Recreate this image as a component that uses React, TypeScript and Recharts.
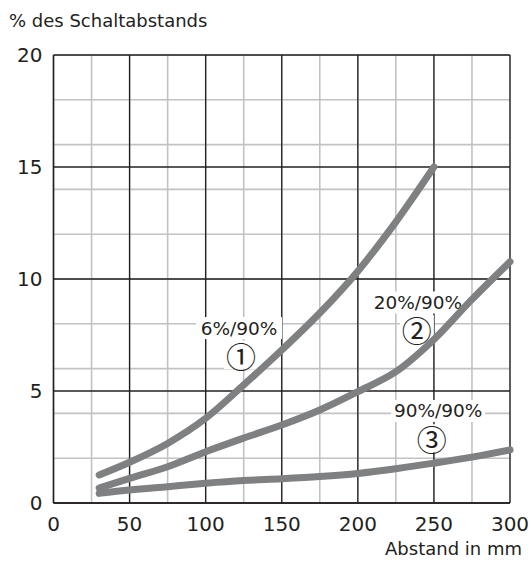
import React from 'react';
import { LineChart, Line, XAxis, YAxis, CartesianGrid, ReferenceDot } from 'recharts';

const distances = [30, 50, 75, 100, 125, 150, 175, 200, 225, 250, 275, 300];
const series1 = [1.25, 1.82, 2.66, 3.78, 5.27, 6.83, 8.48, 10.35, 12.55, 15.0, null, null];
const series2 = [0.67, 1.1, 1.62, 2.29, 2.9, 3.48, 4.15, 4.97, 5.86, 7.3, 9.09, 10.77];
const series3 = [0.43, 0.58, 0.73, 0.88, 1.0, 1.08, 1.18, 1.32, 1.53, 1.78, 2.05, 2.37];

const xTicks = [0, 50, 100, 150, 200, 250, 300];
const yTicks = [0, 5, 10, 15, 20];
const xMinor = [0, 25, 50, 75, 100, 125, 150, 175, 200, 225, 250, 275, 300];
const yMinor = [0, 1, 2, 3, 4, 5, 6, 7, 8, 9, 10, 11, 12, 13, 14, 15, 16, 17, 18, 19, 20];

const seriesNames = ['6%/90%', '20%/90%', '90%/90%'];
const seriesMarks = ['\u2460', '\u2461', '\u2462'];
const yAxisTitle = '% des Schaltabstands';
const xAxisTitle = 'Abstand in mm';

const data = distances.map((d, i) => ({ d, s1: series1[i], s2: series2[i], s3: series3[i] }));

// annotation anchor positions (data coordinates)
const namePos = [
  { x: 121.9, y: 7.81 },
  { x: 239.5, y: 8.95 },
  { x: 252.8, y: 4.11 },
];
const markPos = [
  { x: 123.2, y: 6.61 },
  { x: 238.8, y: 7.76 },
  { x: 248.5, y: 2.89 },
];
const nameWidths = [86, 94, 94];

const FONT = "'DejaVu Sans', sans-serif";
const TEXT = '#231f20';
const CURVE = '#7f8082';

export default function App() {
  return (
    <div style={{ position: 'absolute', left: 0, top: 0, width: 531, height: 562, background: '#fff', fontFamily: FONT }}>
      <LineChart width={531} height={562} data={data} margin={{ top: 55, right: 21, bottom: 0, left: 0 }}>
        <CartesianGrid stroke="#c2c2c4" strokeWidth={1.6} horizontalValues={yMinor} verticalValues={xMinor} />
        <CartesianGrid stroke="#231f20" strokeWidth={1.3} horizontalValues={yTicks} verticalValues={xTicks} />
        <XAxis
          dataKey="d"
          type="number"
          domain={[0, 300]}
          ticks={xTicks}
          height={59}
          tickLine={false}
          axisLine={{ stroke: '#231f20', strokeWidth: 1.3 }}
          tickMargin={8}
          tick={{ fontFamily: FONT, fontSize: 20, fill: TEXT }}
          label={{
            content: () => (
              <text x={522} y={555} textAnchor="end" fontFamily={FONT} fontSize={18} fill={TEXT}>
                {xAxisTitle}
              </text>
            ),
          }}
        />
        <YAxis
          type="number"
          domain={[0, 20]}
          ticks={yTicks}
          width={53.5}
          tickLine={false}
          axisLine={{ stroke: '#231f20', strokeWidth: 1.3 }}
          tickMargin={5}
          tick={{ fontFamily: FONT, fontSize: 20, fill: TEXT }}
          label={{
            content: () => (
              <text x={9} y={26.5} textAnchor="start" fontFamily={FONT} fontSize={18} fill={TEXT}>
                {yAxisTitle}
              </text>
            ),
          }}
        />
        {seriesNames.map((name, i) => (
          <ReferenceDot
            key={'n' + i}
            x={namePos[i].x}
            y={namePos[i].y}
            r={1}
            ifOverflow="visible"
            zIndex={-50}
            shape={(p: any) => (
              <g>
                <rect x={p.cx - nameWidths[i] / 2} y={p.cy - 11} width={nameWidths[i]} height={22} fill="#fff" />
                <text x={p.cx} y={p.cy} textAnchor="middle" dominantBaseline="central" fontFamily={FONT} fontSize={18.5} fill={TEXT}>
                  {name}
                </text>
              </g>
            )}
          />
        ))}
        {seriesMarks.map((m, i) => (
          <ReferenceDot
            key={'m' + i}
            x={markPos[i].x}
            y={markPos[i].y}
            r={1}
            ifOverflow="visible"
            zIndex={-50}
            shape={(p: any) => (
              <g>
                <rect x={p.cx - 17} y={p.cy - 14} width={34} height={28} fill="#fff" />
                <text x={p.cx} y={p.cy} textAnchor="middle" dominantBaseline="central" fontFamily="'Noto Sans CJK JP', 'DejaVu Sans', sans-serif" fontSize={30} fill={TEXT}>
                  {m}
                </text>
              </g>
            )}
          />
        ))}
        <Line dataKey="s1" type="monotone" stroke={CURVE} strokeWidth={7} strokeLinecap="round" dot={false} activeDot={false} isAnimationActive={false} />
        <Line dataKey="s2" type="monotone" stroke={CURVE} strokeWidth={7} strokeLinecap="round" dot={false} activeDot={false} isAnimationActive={false} />
        <Line dataKey="s3" type="monotone" stroke={CURVE} strokeWidth={7} strokeLinecap="round" dot={false} activeDot={false} isAnimationActive={false} />
      </LineChart>
    </div>
  );
}
